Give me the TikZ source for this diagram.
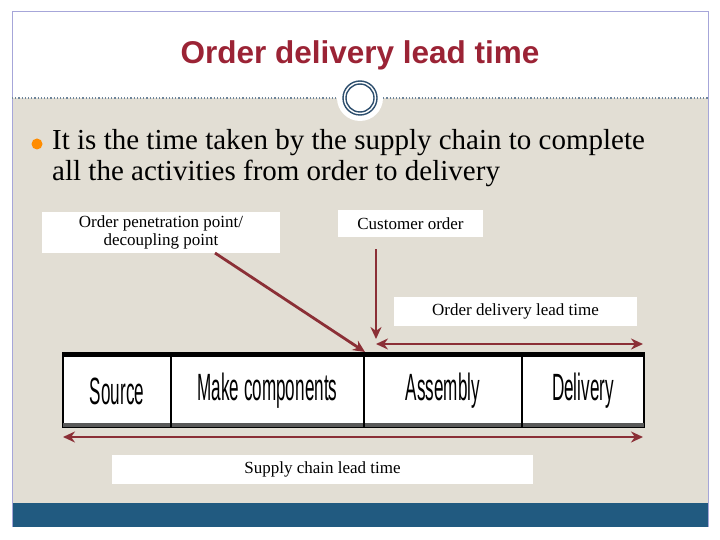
\documentclass[tikz,border=0pt]{standalone}
\usepackage{fontspec}
\setmainfont{Liberation Serif}
\newfontfamily\hfont{Liberation Sans}
\usetikzlibrary{arrows.meta}
\definecolor{ttl}{HTML}{9B2335}
\definecolor{arr}{HTML}{8B2F36}
\definecolor{bg}{HTML}{E2DED4}
\definecolor{bar}{HTML}{215A80}
\definecolor{ring}{HTML}{2E4F6E}
\begin{document}
\begin{tikzpicture}[x=1pt,y=-1pt,
  lbl/.style={fill=white,inner sep=0pt,font=\fontsize{17}{18}\selectfont,align=center},
  ar/.style={draw=arr,line width=2.8pt,-{Stealth[length=12pt,width=11pt]}},
  dar/.style={draw=arr,line width=2.8pt,{Stealth[length=12pt,width=11pt]}-{Stealth[length=12pt,width=11pt]}},
  cell/.style={font=\hfont\fontsize{38}{40}\selectfont}]
\useasboundingbox (0,0) rectangle (720,540);
\fill[white] (0,0) rectangle (720,540);
\fill[bg] (12,98) rectangle (708,503);
\fill[bar] (12,503) rectangle (708,527);
\draw[gray!60!blue!50,line width=1pt] (12,527) -- (12,12) -- (708,12) -- (708,527);
\draw[ring!70,dotted,line width=1.2pt] (12,98) -- (708,98);
\node[circle,fill=white,minimum size=46pt,inner sep=0pt] (c0) at (360,98) {};
\draw[ring,line width=1.4pt] (360,98) circle (17);
\draw[ring,line width=1.4pt] (360,98) circle (14);
\node[font=\hfont\bfseries\fontsize{31.5}{34}\selectfont,text=ttl] (title) at (360,55) {Order delivery lead time};
\fill[orange!90!yellow] (37,144) circle (5.5);
\node[anchor=base west,align=left,font=\fontsize{29}{31}\selectfont,inner sep=0pt] (txt) at (52,150) {It is the time taken by the supply chain to complete};
\node[anchor=base west,align=left,font=\fontsize{29}{31}\selectfont,inner sep=0pt] (txt2) at (52,181) {all the activities from order to delivery};
\node[lbl,minimum width=238pt,minimum height=41pt] (opp) at (161,232.5) {Order penetration point/\\decoupling point\vphantom{p}};
\node[lbl,minimum width=145pt,minimum height=27pt] (co) at (410.5,223.5) {Customer order};
\node[lbl,minimum width=243pt,minimum height=29pt] (odl) at (515.5,311.5) {Order delivery lead time};
\node[lbl,minimum width=421pt,minimum height=29pt] (scl) at (322.5,469.5) {Supply chain lead time};
% table
\fill[white] (63,353) rectangle (644,427);
\draw[black,line width=1.2pt] (63,353) rectangle (644,427);
\draw[black,line width=4.5pt] (63,355) -- (644,355);
\draw[gray!70!black,line width=4.5pt] (63,425) -- (644,425);
\foreach \xx in {171,364,522} \draw[black,line width=1.2pt] (\xx,353) -- (\xx,427);
\node[cell] (s1) at (117,391) {\scalebox{0.45}[1]{Source}};
\node[cell] (s2) at (267.5,391) {\scalebox{0.45}[1]{Make components}};
\node[cell] (s3) at (443,391) {\scalebox{0.45}[1]{Assembly}};
\node[cell] (s4) at (583,391) {\scalebox{0.45}[1]{Delivery}};
\coordinate (pt) at (365,352);
\coordinate (ct) at (376,339);
\coordinate (a1) at (376,344); \coordinate (a2) at (643,344);
\coordinate (b1) at (63,437); \coordinate (b2) at (643,437);
\draw[ar] (215,253) -- (pt);
\draw[ar] (376,249) -- (ct);
\draw[dar] (a1) -- (a2);
\draw[dar] (b1) -- (b2);
\end{tikzpicture}
\end{document}
